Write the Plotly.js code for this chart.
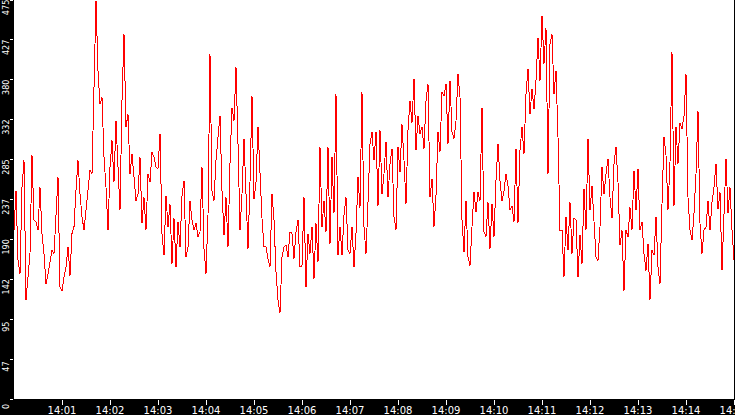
<!DOCTYPE html>
<html>
<head>
<meta charset="utf-8">
<script src="https://cdn.plot.ly/plotly-3.0.1.min.js"></script>
<style>
html, body { margin: 0; padding: 0; background: #000; }
#chart { width: 735px; height: 415px; }
.scatterlayer path.js-line { shape-rendering: crispEdges; }
</style>
</head>
<body>
<div id="chart"></div>
<script>
// Sampling: one reading every 2.5 s starting at 14:00:00
const startTime = Date.UTC(2024, 0, 1, 14, 0, 0);
const stepMs = 2500;

const values = [
  // 14:00:00 - 14:02:32
  201, 248, 165, 149, 252, 284, 118, 151, 173, 290, 213, 211, 201, 252, 197, 173, 137, 149, 165, 177,
  173, 228, 264, 133, 129, 145, 157, 181, 147, 197, 205, 248, 284, 244, 217, 201, 225, 248, 272, 268,
  355, 474, 391, 351, 359, 288, 252, 201, 276, 308, 258, 331, 276, 225, 355, 434, 324, 339, 268, 292,
  264, 236,
  // 14:02:35 - 14:05:02
  244, 288, 209, 240, 201, 268, 258, 294, 288, 276, 274, 316, 197, 171, 242, 205, 232, 161, 215, 157,
  211, 181, 242, 260, 169, 181, 236, 213, 201, 209, 193, 199, 276, 179, 149, 219, 411, 248, 236, 284,
  312, 337, 248, 195, 240, 181, 280, 347, 331, 395, 304, 201, 244, 310, 244, 179, 258, 361, 238, 258,
  // 14:05:05 - 14:07:32
  324, 258, 215, 181, 181, 167, 157, 244, 213, 151, 118, 102, 169, 181, 183, 169, 199, 197, 167, 199,
  213, 157, 159, 240, 133, 197, 173, 205, 143, 209, 163, 300, 205, 236, 199, 300, 185, 288, 221, 363,
  171, 205, 171, 219, 240, 177, 173, 205, 157, 197, 264, 228, 365, 205, 173, 234, 304, 318, 284, 318,
  // 14:07:35 - 14:10:02
  230, 320, 244, 268, 306, 240, 280, 298, 217, 201, 300, 270, 327, 284, 232, 320, 355, 329, 381, 296,
  337, 316, 324, 298, 355, 375, 240, 262, 205, 242, 318, 294, 365, 361, 375, 304, 379, 318, 310, 331,
  387, 359, 213, 175, 236, 169, 159, 205, 246, 223, 246, 236, 347, 199, 193, 234, 179, 232, 193, 260,
  // 14:10:05 - 14:12:32
  304, 260, 236, 248, 268, 254, 225, 230, 211, 298, 209, 296, 324, 292, 363, 393, 339, 369, 345, 379,
  430, 379, 456, 399, 442, 268, 423, 434, 363, 391, 312, 201, 201, 145, 217, 177, 234, 173, 215, 213,
  145, 195, 161, 250, 201, 310, 225, 254, 217, 169, 165, 205, 276, 244, 268, 286, 240, 215, 280, 300,
  // 14:12:35 - 14:15:00
  258, 183, 201, 129, 201, 193, 228, 201, 272, 225, 274, 201, 211, 173, 153, 185, 118, 177, 171, 217,
  157, 137, 232, 312, 290, 225, 282, 413, 230, 324, 280, 329, 321, 337, 387, 240, 201, 189, 221, 268,
  343, 209, 173, 201, 205, 236, 201, 234, 252, 280, 226, 246, 153, 213, 286, 221, 252, 201, 165
];

const yTickValues = [0, 47.5, 95, 142.5, 190, 237.5, 285, 332.5, 380, 427.5, 475];
const yTickLabels = ['0', '47', '95', '142', '190', '237', '285', '332', '380', '427', '475'];
const xTickLabels = ['14:01', '14:02', '14:03', '14:04', '14:05', '14:06', '14:07', '14:08',
                     '14:09', '14:10', '14:11', '14:12', '14:13', '14:14', '14:15'];

const times = values.map((v, i) => startTime + i * stepMs);
const xTickVals = xTickLabels.map((s, i) => startTime + (i + 1) * 60000);

const trace = {
  x: times,
  y: values,
  type: 'scatter',
  mode: 'lines',
  line: { color: '#ff0000', width: 1 },
  hoverinfo: 'skip'
};

const layout = {
  width: 735,
  height: 415,
  margin: { l: 14, r: 1, t: 0, b: 16, pad: 0 },
  paper_bgcolor: '#000000',
  plot_bgcolor: '#ffffff',
  showlegend: false,
  font: { family: 'DejaVu Sans', size: 10, color: '#ffffff' },
  xaxis: {
    type: 'date',
    range: [startTime, startTime + 15 * 60000],
    tickmode: 'array',
    tickvals: xTickVals,
    ticktext: xTickLabels,
    ticks: 'outside',
    ticklen: 5,
    tickwidth: 1,
    tickcolor: '#ffffff',
    ticklabelstandoff: -3,
    showgrid: false,
    zeroline: false,
    showline: false,
    ticklabeloverflow: 'allow',
    tickfont: { family: 'DejaVu Sans', size: 10, color: '#ffffff' },
    fixedrange: true
  },
  yaxis: {
    range: [0, 475],
    tickmode: 'array',
    tickvals: yTickValues,
    ticktext: yTickLabels,
    tickangle: -90,
    ticklabelposition: 'outside bottom',
    ticklabelshift: 2,
    ticks: 'outside',
    ticklen: 3,
    tickwidth: 1,
    tickcolor: '#ffffff',
    showgrid: false,
    zeroline: false,
    showline: false,
    ticklabeloverflow: 'allow',
    tickfont: { family: 'DejaVu Sans Condensed, DejaVu Sans', size: 9, color: '#ffffff' },
    fixedrange: true
  }
};

Plotly.newPlot('chart', [trace], layout, { displayModeBar: false, staticPlot: true });
</script>
</body>
</html>
